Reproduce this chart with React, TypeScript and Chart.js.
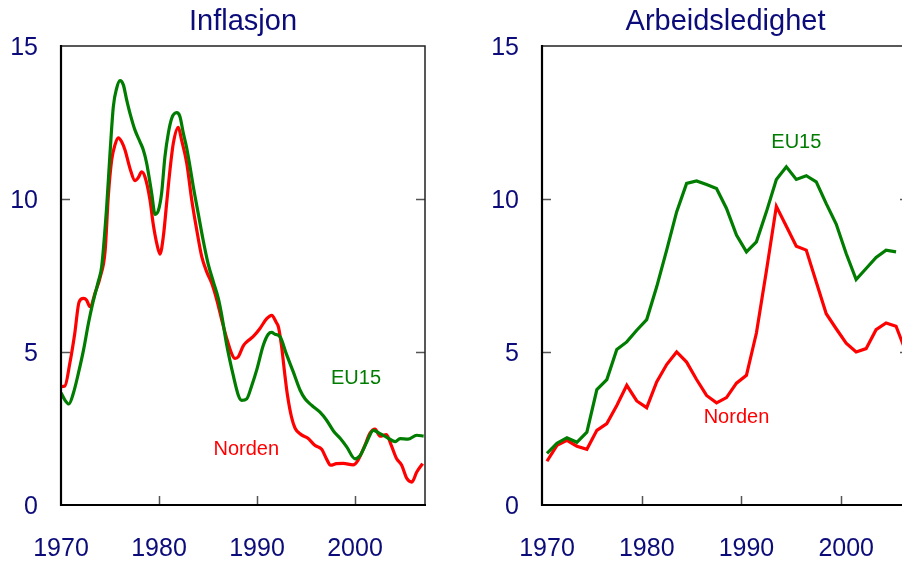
import { useEffect, useRef } from "react";
import { Chart, registerables } from "chart.js";

Chart.register(...registerables);

const FONT = "'Liberation Sans', Arial, Helvetica, sans-serif";
const NAVY = "#0b0b7a";
const GREEN = "#007d00";
const RED = "#ff0000";

// ---- Inflasjon (monthly-like series, x in decimal years) ----
const inflNordenYears = [
  1970.0, 1970.4, 1970.9, 1971.4, 1971.85, 1972.3, 1972.6, 1972.96, 1973.5, 1974.0,
  1974.5, 1974.83, 1975.17, 1975.5, 1975.85, 1976.19, 1976.53, 1977.04, 1977.55, 1977.89,
  1978.23, 1978.57, 1979.08, 1979.4, 1979.77, 1980.1, 1980.44, 1980.78, 1981.12, 1981.46,
  1981.97, 1982.3, 1982.83, 1983.34, 1983.85, 1984.36, 1984.87, 1985.38, 1985.9, 1986.4,
  1986.9, 1987.42, 1987.76, 1988.1, 1988.6, 1988.95, 1989.6, 1990.3, 1990.99, 1991.5,
  1991.94, 1992.2, 1992.5, 1992.86, 1993.1, 1993.5, 1993.9, 1994.5, 1995.2, 1995.9,
  1996.6, 1997.1, 1997.5, 1998.1, 1998.8, 1999.8, 2000.3, 2001.0, 2001.5, 2002.04,
  2002.55, 2003.2, 2003.7, 2004.25, 2004.76, 2005.3, 2005.8, 2006.3, 2006.9,
];
const inflNorden = [
  3.87, 3.89, 4.63, 5.6, 6.64, 6.75, 6.7, 6.48, 6.95, 7.45,
  8.3, 10.1, 11.27, 11.76, 12.0, 11.87, 11.6, 11.0, 10.6, 10.7,
  10.89, 10.72, 9.97, 9.2, 8.55, 8.2, 8.77, 9.86, 10.95, 11.82,
  12.34, 11.93, 11.17, 9.97, 8.99, 8.12, 7.62, 7.25, 6.7, 6.05,
  5.45, 4.94, 4.79, 4.85, 5.2, 5.33, 5.5, 5.77, 6.09, 6.2,
  5.98, 5.8, 5.2, 4.2, 3.6, 2.9, 2.5, 2.3, 2.18, 1.95,
  1.82, 1.5, 1.3, 1.35, 1.36, 1.31, 1.46, 1.94, 2.33, 2.48,
  2.25, 2.3, 1.95, 1.51, 1.3, 0.86, 0.75, 1.08, 1.35,
];

const inflEUYears = [
  1970.0, 1970.4, 1970.8, 1971.26, 1971.77, 1972.3, 1972.8, 1973.2, 1973.8, 1974.15,
  1974.66, 1975.0, 1975.34, 1975.68, 1976.02, 1976.36, 1976.7, 1977.04, 1977.55, 1978.06,
  1978.4, 1978.74, 1979.25, 1979.6, 1979.93, 1980.27, 1980.6, 1980.95, 1981.3, 1981.8,
  1982.14, 1982.48, 1982.83, 1983.16, 1983.5, 1984.0, 1984.5, 1985.0, 1985.54, 1986.05,
  1986.4, 1986.9, 1987.6, 1988.1, 1988.44, 1988.95, 1989.46, 1990.0, 1990.64, 1991.15,
  1991.5, 1991.84, 1992.35, 1993.0, 1993.7, 1994.4, 1994.9, 1995.6, 1996.4, 1997.1,
  1997.8, 1998.5, 1999.15, 2000.0, 2000.5, 2001.2, 2001.87, 2002.55, 2003.2, 2004.1,
  2004.6, 2005.4, 2006.3, 2007.0,
];
const inflEU = [
  3.67, 3.43, 3.3, 3.65, 4.3, 5.07, 5.94, 6.54, 7.3, 7.79,
  9.75, 11.49, 13.02, 13.62, 13.87, 13.73, 13.24, 12.8, 12.25, 11.87,
  11.6, 11.17, 10.19, 9.5, 9.62, 10.2, 11.37, 12.15, 12.64, 12.82,
  12.69, 12.15, 11.66, 11.06, 10.4, 9.53, 8.66, 7.9, 7.3, 6.75,
  6.2, 5.25, 4.2, 3.58, 3.42, 3.47, 3.9, 4.45, 5.22, 5.58,
  5.64, 5.58, 5.5, 4.93, 4.35, 3.75, 3.47, 3.25, 3.04, 2.77,
  2.42, 2.17, 1.9, 1.51, 1.61, 2.06, 2.44, 2.33, 2.22, 2.07,
  2.17, 2.15, 2.28, 2.25,
];

// ---- Arbeidsledighet (annual, plotted at mid-year) ----
const unempYears = [
  1970, 1971, 1972, 1973, 1974, 1975, 1976, 1977, 1978, 1979,
  1980, 1981, 1982, 1983, 1984, 1985, 1986, 1987, 1988, 1989,
  1990, 1991, 1992, 1993, 1994, 1995, 1996, 1997, 1998, 1999,
  2000, 2001, 2002, 2003, 2004, 2005, 2006,
];
const unempNorden = [
  1.43, 1.95, 2.11, 1.92, 1.82, 2.44, 2.66, 3.25, 3.91, 3.4,
  3.18, 4.02, 4.59, 5.0, 4.67, 4.1, 3.58, 3.34, 3.51, 3.98,
  4.24, 5.62, 7.65, 9.76, 9.11, 8.46, 8.33, 7.29, 6.25, 5.76,
  5.29, 5.0, 5.11, 5.73, 5.95, 5.84, 5.0,
];
const unempEU15 = [
  1.69, 2.02, 2.2, 2.05, 2.38, 3.77, 4.1, 5.08, 5.33, 5.71,
  6.06, 7.13, 8.33, 9.58, 10.51, 10.59, 10.47, 10.34, 9.69, 8.82,
  8.27, 8.6, 9.58, 10.64, 11.05, 10.64, 10.76, 10.56, 9.85, 9.18,
  8.22, 7.37, 7.73, 8.09, 8.33, 8.27,
];

const xTickValues = [1970, 1980, 1990, 2000];
const yTickValues = [0, 5, 10, 15];

type Label = { text: string; x: number; y: number; color: string };

const inflLabels: Label[] = [
  { text: "EU15", x: 2000.1, y: 4.12, color: GREEN },
  { text: "Norden", x: 1988.9, y: 1.8, color: RED },
];
const unempLabels: Label[] = [
  { text: "EU15", x: 1995.5, y: 11.86, color: GREEN },
  { text: "Norden", x: 1989.5, y: 2.86, color: RED },
];

function pts(xs: number[], ys: number[], shift = 0) {
  return ys.map((y, i) => ({ x: xs[i] + shift, y }));
}

const framePlugin = {
  id: "frameAndLabels",
  afterDatasetsDraw(chart: any, _args: any, opts: any) {
    const { ctx, chartArea: a, scales } = chart;
    const xs = scales.x;
    const ys = scales.y;
    ctx.save();
    // inner tick marks
    ctx.strokeStyle = "#555";
    ctx.lineWidth = 1.5;
    ctx.beginPath();
    for (const v of yTickValues) {
      if (v === 0 || v === 15) continue;
      const py = Math.round(ys.getPixelForValue(v)) + 0.5;
      ctx.moveTo(a.left, py);
      ctx.lineTo(a.left + 9, py);
      ctx.moveTo(a.right - 9, py);
      ctx.lineTo(a.right, py);
    }
    for (const v of xTickValues) {
      if (v === 1970) continue;
      const px = Math.round(xs.getPixelForValue(v)) + 0.5;
      ctx.moveTo(px, a.bottom);
      ctx.lineTo(px, a.bottom - 9);
    }
    ctx.stroke();
    // frame
    ctx.strokeStyle = "#222";
    ctx.lineWidth = 1.5;
    ctx.beginPath();
    ctx.moveTo(a.left, a.top);
    ctx.lineTo(a.right, a.top);
    ctx.lineTo(a.right, a.bottom);
    ctx.stroke();
    ctx.strokeStyle = "#000";
    ctx.lineWidth = 2.2;
    ctx.beginPath();
    ctx.moveTo(a.left, a.top - 1);
    ctx.lineTo(a.left, a.bottom);
    ctx.lineTo(a.right + 1, a.bottom);
    ctx.stroke();
    // series labels
    ctx.font = `20px ${FONT}`;
    ctx.textAlign = "center";
    ctx.textBaseline = "middle";
    for (const l of opts.labels as Label[]) {
      ctx.fillStyle = l.color;
      ctx.fillText(l.text, xs.getPixelForValue(l.x), ys.getPixelForValue(l.y));
    }
    ctx.restore();
  },
};

function makeChart(
  canvas: HTMLCanvasElement,
  title: string,
  datasets: any[],
  xMax: number,
  plotLeft: number,
  rightPad: number,
  labelOffset: number,
  labels: Label[]
) {
  return new Chart(canvas, {
    type: "line",
    data: { datasets },
    plugins: [framePlugin],
    options: {
      animation: false,
      responsive: false,
      maintainAspectRatio: false,
      devicePixelRatio: 1,
      layout: { padding: { left: 0, right: rightPad, top: 0, bottom: 0 } },
      elements: { point: { radius: 0 } },
      plugins: {
        legend: { display: false },
        tooltip: { enabled: false },
        title: {
          display: true,
          text: title,
          color: NAVY,
          fullSize: false,
          font: { family: FONT, size: 29, weight: "normal", lineHeight: 1.2 },
          padding: { top: 5, bottom: 6.2 },
        },
        frameAndLabels: { labels },
      } as any,
      scales: {
        x: {
          type: "linear",
          min: 1970,
          max: xMax,
          grid: { display: false, drawTicks: false },
          border: { display: false },
          afterBuildTicks: (s: any) => {
            s.ticks = xTickValues.map((v) => ({ value: v }));
          },
          afterFit: (s: any) => {
            s.height = 59;
          },
          ticks: {
            color: NAVY,
            font: { family: FONT, size: 25 },
            padding: 29,
            labelOffset,
            maxRotation: 0,
            autoSkip: false,
            callback: (v: any) => String(v),
          },
        },
        y: {
          type: "linear",
          min: 0,
          max: 15,
          grid: { display: false, drawTicks: false },
          border: { display: false },
          afterBuildTicks: (s: any) => {
            s.ticks = yTickValues.map((v) => ({ value: v }));
          },
          afterFit: (s: any) => {
            s.width = plotLeft;
          },
          ticks: {
            color: NAVY,
            font: { family: FONT, size: 25 },
            padding: 23,
            labelOffset: 2,
            callback: (v: any) => String(v),
          },
        },
      },
    } as any,
  });
}

export default function App() {
  const leftRef = useRef<HTMLCanvasElement>(null);
  const rightRef = useRef<HTMLCanvasElement>(null);

  useEffect(() => {
    const c1 = makeChart(
      leftRef.current!,
      "Inflasjon",
      [
        {
          label: "EU15",
          data: pts(inflEUYears, inflEU),
          borderColor: GREEN,
          borderWidth: 3.2,
          cubicInterpolationMode: "monotone",
          tension: 0.4,
        },
        {
          label: "Norden",
          data: pts(inflNordenYears, inflNorden),
          borderColor: RED,
          borderWidth: 3.2,
          cubicInterpolationMode: "monotone",
          tension: 0.4,
        },
      ],
      2007.14,
      61,
      450 - 425,
      0,
      inflLabels
    );
    const c2 = makeChart(
      rightRef.current!,
      "Arbeidsledighet",
      [
        {
          label: "EU15",
          data: pts(unempYears, unempEU15, 0.5),
          borderColor: GREEN,
          borderWidth: 3.2,
          tension: 0,
        },
        {
          label: "Norden",
          data: pts(unempYears, unempNorden, 0.5),
          borderColor: RED,
          borderWidth: 3.2,
          tension: 0,
        },
      ],
      2006.8,
      92,
      470 - 459,
      5,
      unempLabels
    );
    return () => {
      c1.destroy();
      c2.destroy();
    };
  }, []);

  return (
    <div
      style={{
        position: "fixed",
        left: 0,
        top: 0,
        width: 902,
        height: 564,
        overflow: "hidden",
        background: "#fff",
      }}
    >
      <canvas
        ref={leftRef}
        width={450}
        height={564}
        style={{ position: "absolute", left: 0, top: 0, width: 450, height: 564 }}
      />
      <canvas
        ref={rightRef}
        width={470}
        height={564}
        style={{ position: "absolute", left: 450, top: 0, width: 470, height: 564 }}
      />
    </div>
  );
}
